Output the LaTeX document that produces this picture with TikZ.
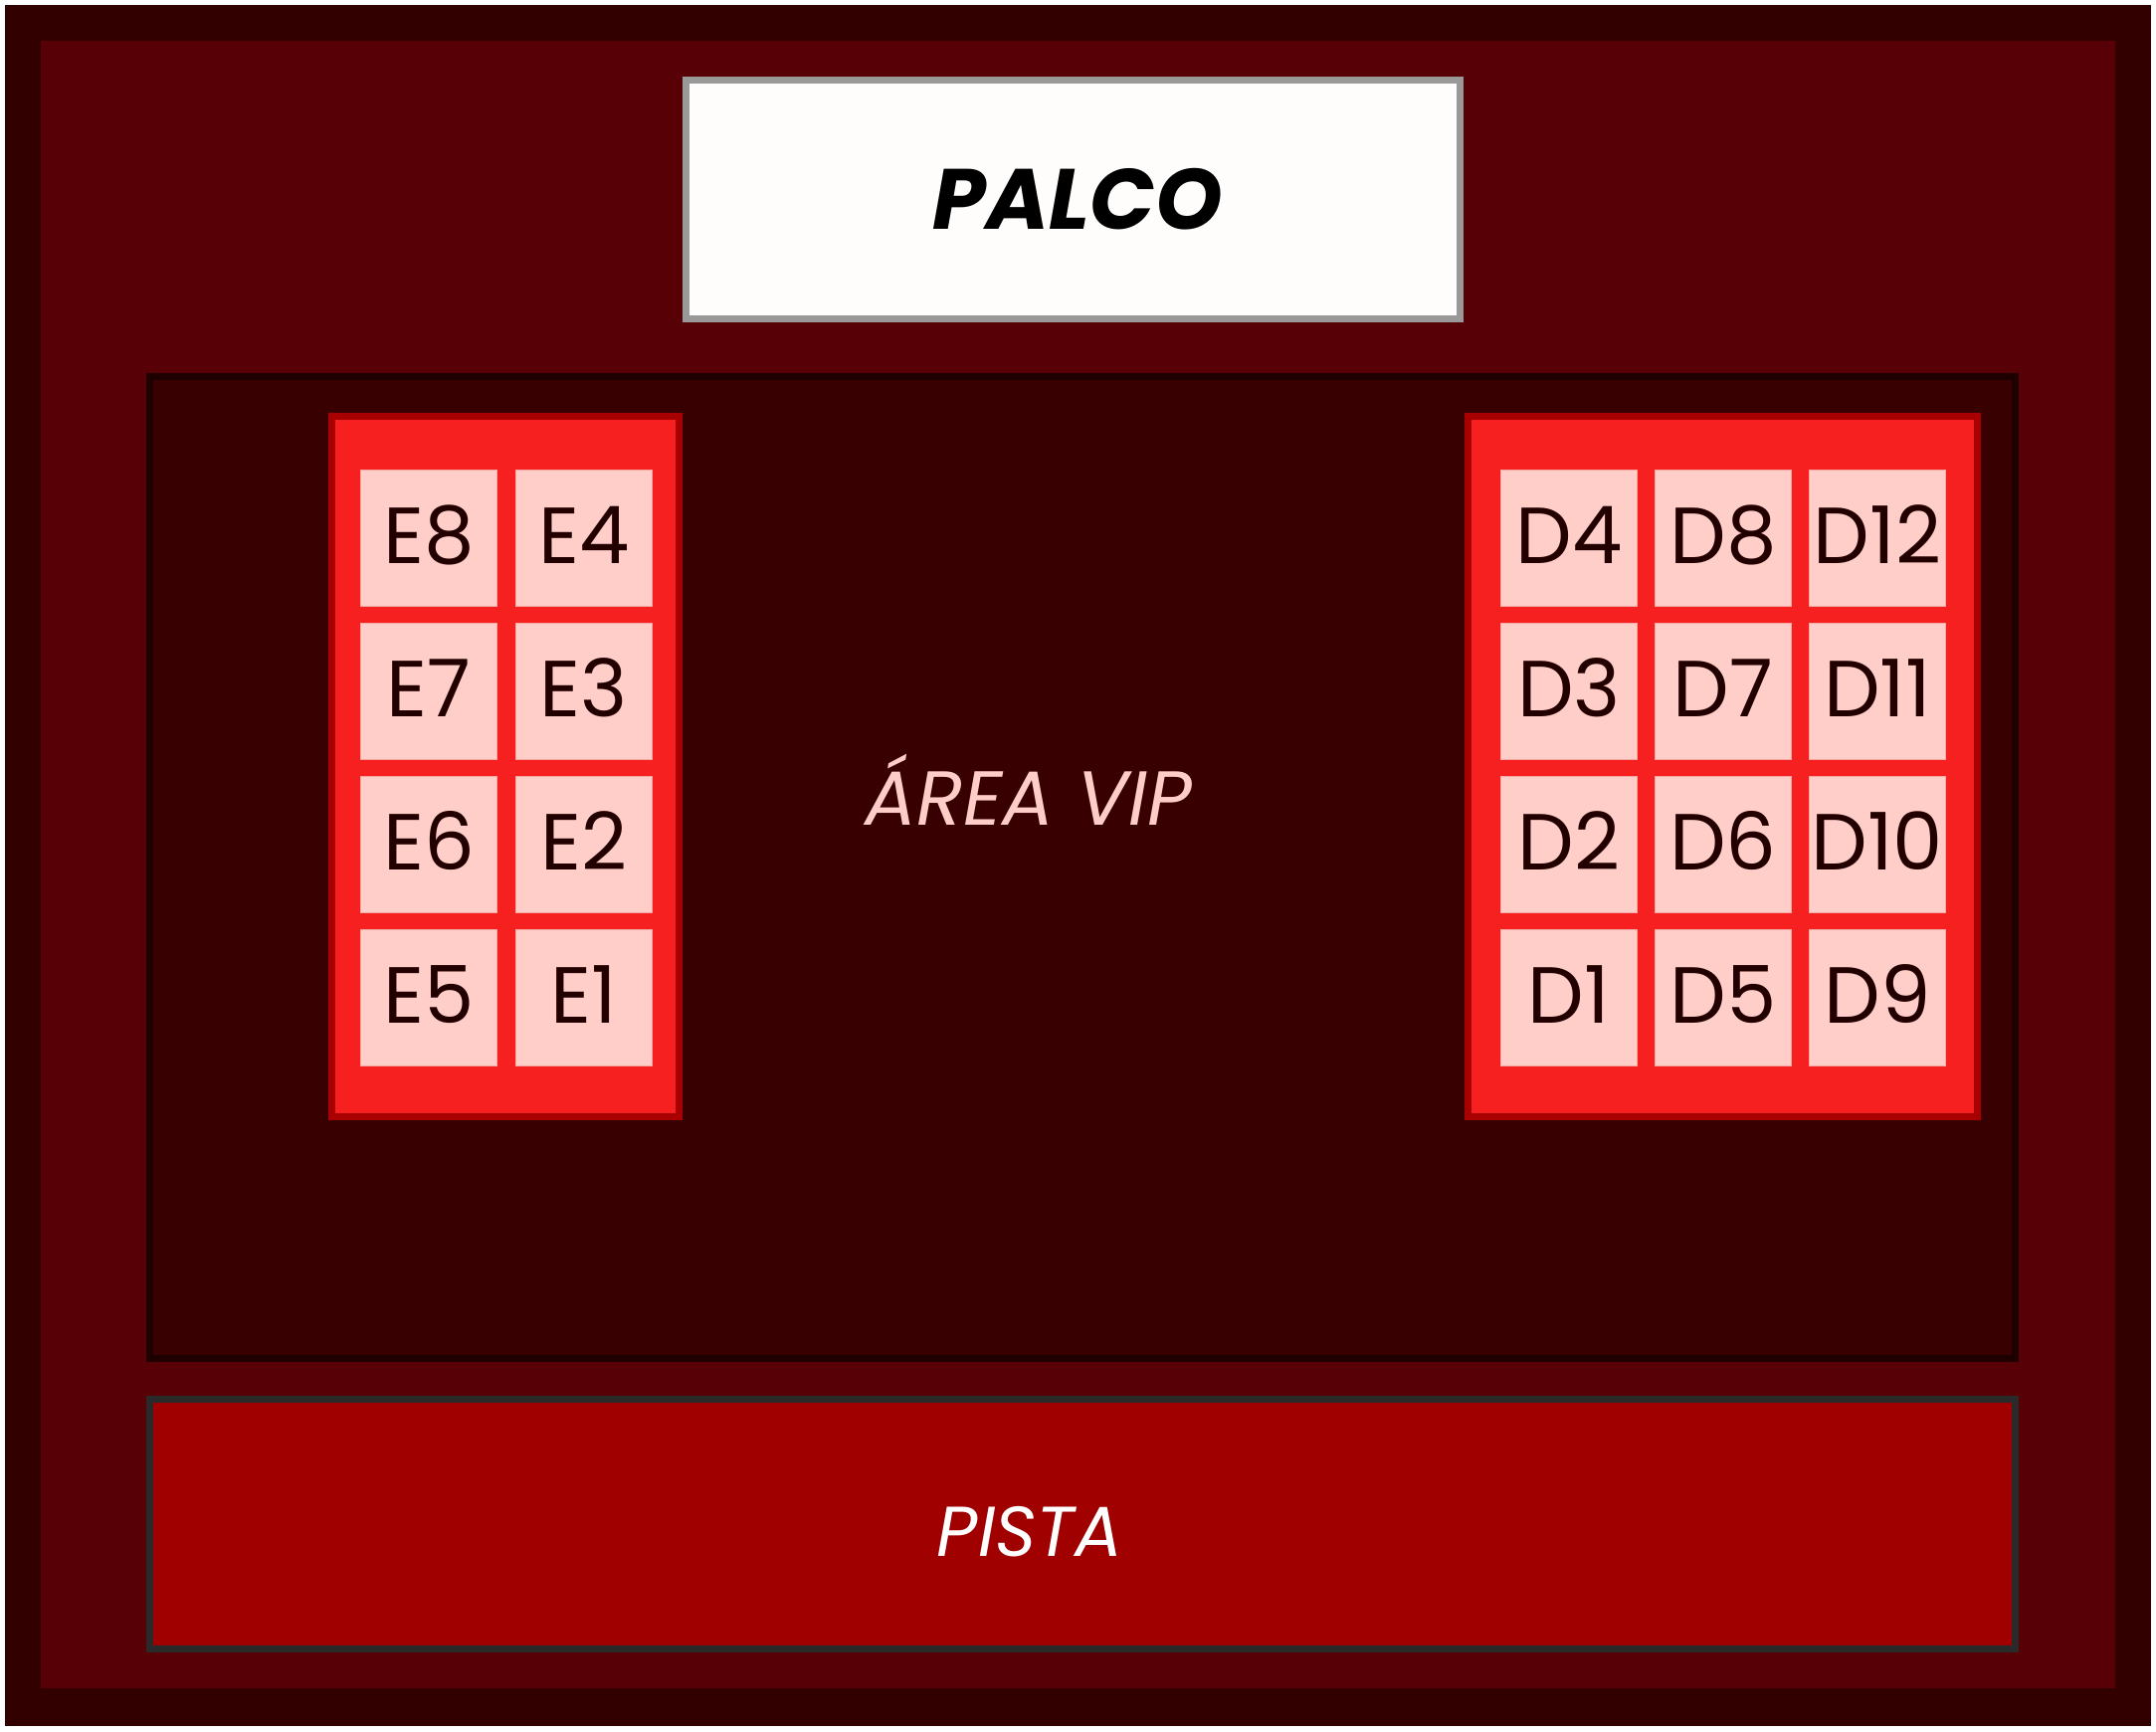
\documentclass[tikz,border=0pt]{standalone}
\usepackage{fontspec}
\setmainfont{Poppins}
\definecolor{outerdark}{HTML}{330000}
\definecolor{innerred}{HTML}{570006}
\definecolor{vipfill}{HTML}{380000}
\definecolor{vipline}{HTML}{1F0000}
\definecolor{palcofill}{HTML}{FFFDFB}
\definecolor{palcoline}{HTML}{999999}
\definecolor{blockfill}{HTML}{F72020}
\definecolor{blockline}{HTML}{A80000}
\definecolor{seatfill}{HTML}{FFCEC8}
\definecolor{seatline}{HTML}{F5A8A2}
\definecolor{seattext}{HTML}{220000}
\definecolor{pistafill}{HTML}{A00000}
\definecolor{pistaline}{HTML}{2A2A2A}
\definecolor{viptext}{HTML}{FFCDC8}
\tikzset{
  seat/.style={anchor=north west, fill=seatfill, draw=seatline, line width=0.4pt,
    minimum width=68.6pt, minimum height=68.6pt, inner sep=0pt},
  seatlabel/.style={anchor=base, text=seattext, font=\fontsize{40}{40}\selectfont, inner sep=0pt},
  zone/.style={line width=3.5pt},
}
\begin{document}
\begin{tikzpicture}[x=0.5pt,y=-0.5pt]
\useasboundingbox (0,0) rectangle (2167,1740);
\fill[white] (0,0) rectangle (2167,1740);
% outer frame
\fill[outerdark] (5,5) rectangle (2162,1735);
\fill[innerred] (41,41) rectangle (2126,1697);
% stage
\draw[zone, fill=palcofill, draw=palcoline] (689.5,80.5) rectangle (1467.5,320.5);
\node[anchor=base, inner sep=0pt, font=\fontsize{43}{43}\selectfont\bfseries\itshape, text=black] (palco) at (1083,230) {PALCO};
% VIP area
\draw[zone, fill=vipfill, draw=vipline] (150.5,378.5) rectangle (2025.5,1365.5);
\node[anchor=base, inner sep=0pt, font=\fontsize{38.5}{38.5}\selectfont\itshape, text=viptext] (vip) at (1034,829) {ÁREA VIP};
% seat blocks
\draw[zone, fill=blockfill, draw=blockline] (333.5,418.5) rectangle (682.5,1122.5);
\draw[zone, fill=blockfill, draw=blockline] (1475.5,418.5) rectangle (1987.5,1122.5);
\foreach \lab/\x/\y in {E8/362/472, E7/362/626, E6/362/780, E5/362/934,
                        E4/518/472, E3/518/626, E2/518/780, E1/518/934,
                        D4/1508/472, D3/1508/626, D2/1508/780, D1/1508/934,
                        D8/1663/472, D7/1663/626, D6/1663/780, D5/1663/934,
                        D12/1818/472, D11/1818/626, D10/1818/780, D9/1818/934}{
  \node[seat] (s\lab) at (\x,\y) {};
  \node[seatlabel] (t\lab) at ([yshift=-47pt]s\lab.north) {\lab};
}
% pista
\draw[zone, fill=pistafill, draw=pistaline] (150.5,1406.5) rectangle (2025.5,1657.5);
\node[anchor=base, inner sep=0pt, font=\fontsize{35.5}{35.5}\selectfont\itshape, text=white] (pista) at (1035,1564) {PISTA};
\end{tikzpicture}
\end{document}
